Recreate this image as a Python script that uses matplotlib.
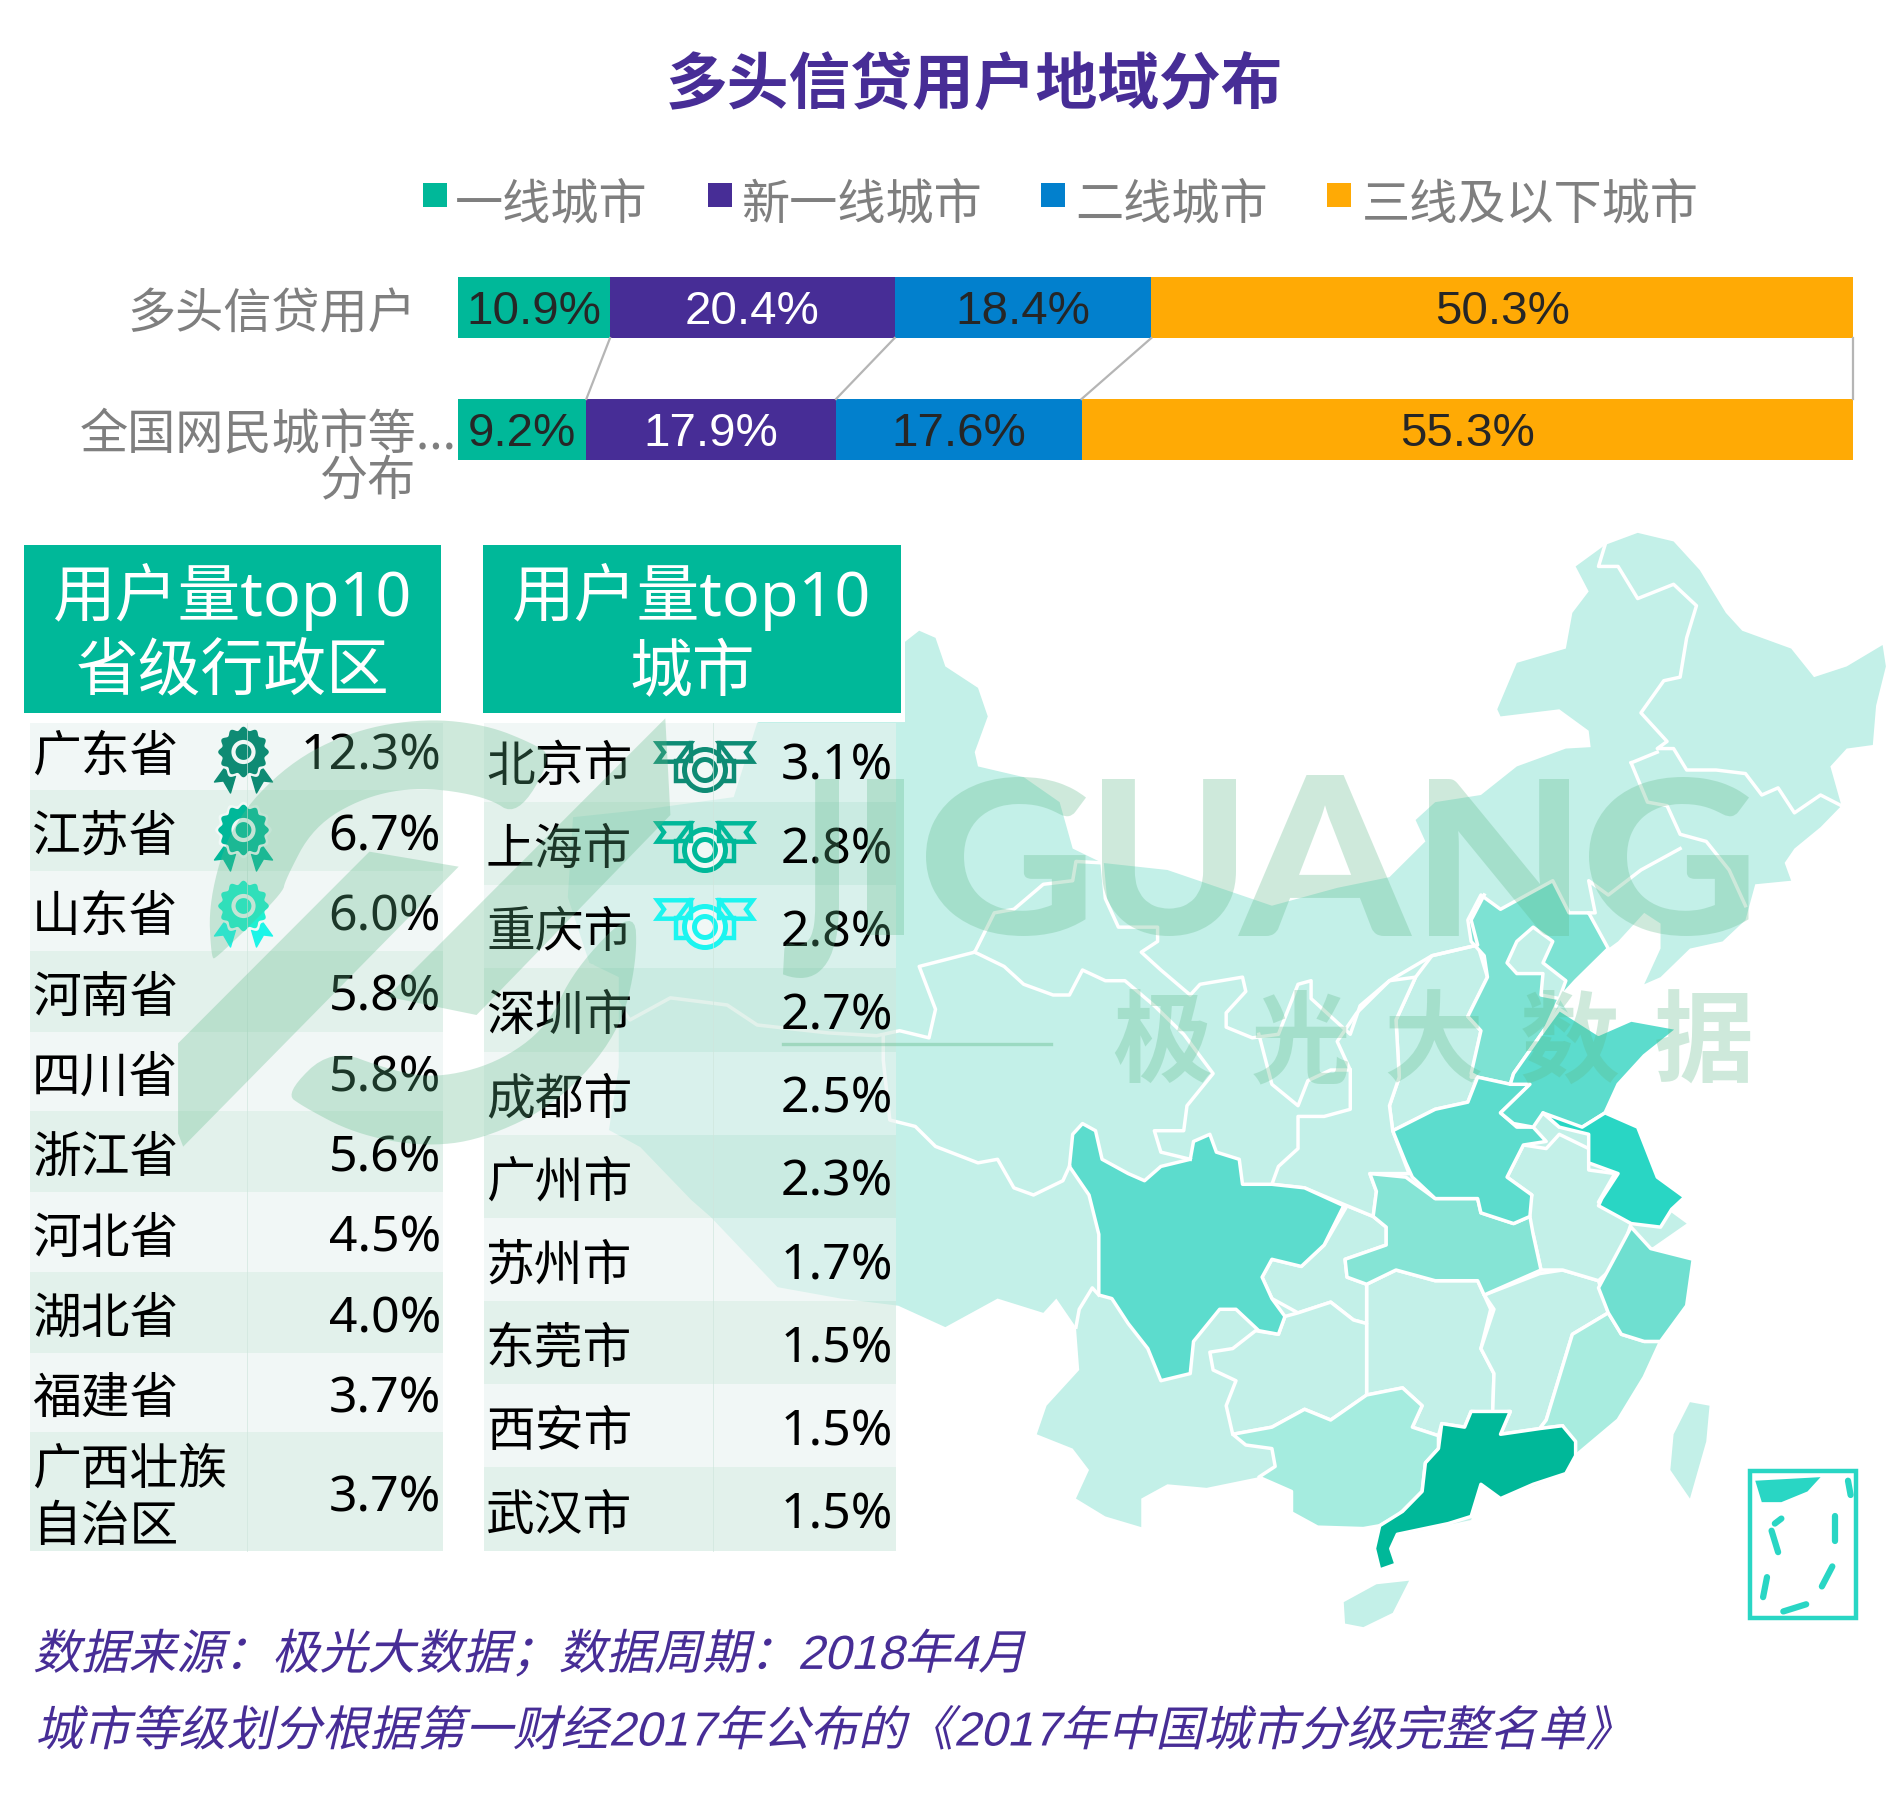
import numpy as np
import matplotlib
matplotlib.use("Agg")
import matplotlib.pyplot as plt
from matplotlib.patches import Polygon, Rectangle, Circle
from matplotlib.patheffects import AbstractPathEffect
from matplotlib.textpath import TextPath
from matplotlib.font_manager import FontProperties
from matplotlib.transforms import Affine2D

# --- data ---
title = "多头信贷用户地域分布"
tiers = ["一线城市", "新一线城市", "二线城市", "三线及以下城市"]
groups = ["多头信贷用户", "全国网民城市等..."]
share_credit = [10.9, 20.4, 18.4, 50.3]
share_all = [9.2, 17.9, 17.6, 55.3]

provinces = ["广东省", "江苏省", "山东省", "河南省", "四川省", "浙江省", "河北省", "湖北省", "福建省", "广西壮族\n自治区"]
province_pct = [12.3, 6.7, 6.0, 5.8, 5.8, 5.6, 4.5, 4.0, 3.7, 3.7]
cities = ["北京市", "上海市", "重庆市", "深圳市", "成都市", "广州市", "苏州市", "东莞市", "西安市", "武汉市"]
city_pct = [3.1, 2.8, 2.8, 2.7, 2.5, 2.3, 1.7, 1.5, 1.5, 1.5]

source_lines = ["数据来源\uff1a极光大数据\uff1b数据周期\uff1a2018年4月",
                "城市等级划分根据第一财经2017年公布的《2017年中国城市分级完整名单》"]

# map outlines
china = [(60,155),(85,165),(100,205),(150,235),(165,275),(145,325),(150,345),(220,360),(275,395),(295,460),(340,480),
         (440,490),(520,515),(600,540),(700,515),(780,500),(835,450),(820,420),(850,395),(920,385),(975,345),(1050,320),
         (1088,318),(1085,295),(1040,265),(950,275),(945,265),(975,200),(1050,180),(1060,130),(1085,100),(1065,65),
         (1110,35),(1160,18),(1215,30),(1255,70),(1295,130),(1320,155),(1395,180),(1430,220),(1480,205),(1535,175),
         (1540,205),(1525,260),(1520,315),(1480,320),(1455,345),(1472,400),(1440,430),(1400,460),(1385,480),(1395,505),
         (1340,510),(1325,560),(1290,590),(1240,600),(1195,640),(1170,650),(1195,600),(1195,565),(1170,550),(1130,590),
         (1115,600),(1065,645),(1040,670),(1060,700),(1100,720),(1150,700),(1222,712),(1170,750),(1130,790),(1110,830),
         (1160,850),(1190,920),(1230,945),(1205,965),(1235,985),(1180,1020),(1245,1035),(1235,1100),(1195,1150),
         (1170,1200),(1130,1260),(1065,1310),(1050,1335),(950,1370),(920,1350),(905,1400),(800,1420),(770,1410),
         (740,1412),(670,1410),(630,1390),(630,1360),(580,1340),(500,1355),(440,1350),(400,1370),(400,1410),(345,1395),
         (300,1370),(320,1330),(295,1300),(240,1280),(255,1240),(305,1190),(300,1130),(270,1090),(250,1110),(180,1090),
         (100,1130),(28,1100),(-60,1090),(-157,1074),(-259,976),(-289,952),(-367,878),(-415,854),(-400,766),(-400,640),
         (-445,620),(-478,528),(-470,416),(-367,406),(-224,388),(-188,284),(32,175)]
hainan = [(710,1515),(760,1490),(810,1485),(785,1530),(740,1550),(712,1545)]
taiwan = [(1240,1235),(1270,1240),(1265,1290),(1240,1370),(1210,1330),(1215,1280)]

guangdong = [(860,1265),(895,1270),(905,1248),(965,1248),(950,1280),(1010,1272),(1045,1268),(1065,1290),(1065,1310),
             (1050,1335),(1000,1350),(950,1370),(920,1350),(905,1395),(870,1405),(792,1420),(782,1440),(790,1462),
             (765,1470),(757,1440),(765,1408),(800,1388),(830,1360),(835,1320),(855,1300)]
guangxi = [(540,1280),(600,1270),(650,1245),(690,1260),(745,1225),(800,1215),(830,1240),(815,1270),(855,1282),(855,1300),
           (835,1320),(830,1360),(795,1392),(765,1408),(740,1412),(670,1410),(630,1390),(630,1360),(580,1340),(605,1325),
           (600,1300),(560,1295)]
hunan = [(745,1070),(790,1050),(850,1065),(915,1065),(935,1105),(920,1160),(940,1195),(938,1250),(905,1248),(895,1270),
         (860,1265),(855,1282),(815,1270),(830,1240),(800,1215),(745,1225),(745,1180),(745,1125)]
jiangxi = [(925,1085),(1010,1055),(1045,1050),(1100,1065),(1115,1110),(1060,1140),(1040,1200),(1020,1260),(1010,1272),
           (950,1280),(965,1248),(938,1250),(940,1195),(920,1160),(940,1105)]
fujian = [(1115,1110),(1135,1140),(1170,1150),(1195,1150),(1170,1200),(1130,1260),(1065,1310),(1045,1268),(1010,1272),
          (1020,1260),(1040,1200),(1060,1140)]
zhejiang = [(1100,1075),(1150,990),(1180,1020),(1245,1035),(1235,1100),(1195,1150),(1170,1150),(1135,1140),(1115,1110)]
jiangsu = [(1015,830),(1040,850),(1085,860),(1085,900),(1130,915),(1105,950),(1100,960),(1150,985),(1195,990),(1212,965),
           (1232,948),(1190,920),(1160,850),(1110,830),(1075,850)]
anhui = [(960,920),(985,875),(1020,880),(1040,860),(1085,880),(1085,910),(1125,915),(1100,955),(1150,985),(1130,1040),
         (1100,1065),(1045,1050),(1012,1050),(1000,1000),(985,975),(998,945)]
shandong = [(970,775),(1020,710),(1040,685),(1100,720),(1150,700),(1222,712),(1170,750),(1130,790),(1110,830),(1075,850),
            (1040,850),(1015,830),(1000,850),(970,845),(950,830),(995,790),(965,790)]
henan = [(785,855),(850,825),(900,815),(915,780),(965,790),(995,790),(950,830),(975,850),(1000,850),(1020,870),(985,875),
         (960,920),(998,945),(995,975),(970,985),(920,970),(915,950),(850,950),(815,920),(805,900)]
hebei = [(900,560),(920,525),(950,545),(1000,520),(1030,505),(1055,550),(1085,550),(1115,600),(1065,645),(1040,670),
         (1020,710),(970,775),(965,790),(915,780),(905,775),(920,715),(900,695),(930,640),(925,610),(905,590)]
beijing = [(960,620),(975,590),(1000,570),(1030,590),(1015,620),(1050,645),(1040,670),(1012,665),(1015,635),(975,635)]
hubei = [(750,915),(805,920),(850,950),(915,950),(920,970),(970,985),(995,975),(1000,1000),(1012,1050),(925,1085),(915,1065),
         (850,1065),(790,1050),(745,1070),(715,1060),(712,1035),(775,1015),(775,990),(755,975),(760,940)]
chongqing = [(715,960),(755,975),(775,990),(775,1015),(712,1035),(715,1060),(745,1070),(745,1125),(725,1120),(690,1095),
             (640,1110),(600,1090),(585,1060),(600,1035),(645,1045),(680,1015)]
sichuan = [(310,845),(330,855),(340,895),(380,915),(405,925),(430,905),(475,895),(480,870),(505,860),(515,885),(550,895),
           (555,930),(600,930),(650,935),(710,960),(680,1015),(645,1045),(600,1035),(585,1060),(600,1090),(620,1115),
           (610,1140),(580,1135),(545,1105),(520,1105),(480,1150),(475,1195),(430,1205),(410,1160),(380,1125),(355,1090),
           (335,1085),(335,1000),(320,945),(290,905),(295,860)]
guizhou = [(505,1165),(540,1160),(575,1135),(610,1140),(620,1115),(640,1110),(690,1095),(725,1120),(745,1125),(745,1225),
           (690,1260),(650,1245),(600,1270),(540,1280),(530,1240),(545,1205),(510,1190)]
shanxi = [(845,610),(915,595),(930,640),(900,695),(920,715),(905,780),(915,780),(900,815),(850,825),(785,855),(780,820),
          (795,780),(790,700),(820,640)]
shaanxi = [(780,645),(820,640),(790,700),(795,780),(780,820),(785,855),(810,915),(750,915),(760,940),(755,975),(715,960),
           (650,935),(600,930),(610,905),(640,880),(640,835),(680,835),(720,825),(720,770),(700,730),(730,690)]

border_lines = [
    [(145,605),(175,550),(205,545),(250,510),(295,505),(300,478),(340,480),(345,530),(365,570),(425,570),(425,590),(400,605),
     (430,630),(475,665),(490,650),(555,640),(560,660),(530,690),(530,710),(570,725),(610,720),(640,650),(660,645),(660,670),
     (720,720),(735,680),(780,645),(845,610),(915,595),(905,560),(925,525)],
    [(145,605),(60,625),(85,685),(75,725),(30,715),(-5,722),(-80,718),(-188,707),(-234,679),(-321,669),(-383,700),(-440,625)],
    [(5,722),(5,756),(15,840),(54,849),(85,877),(150,900),(180,895),(205,935),(235,945),(280,925),(290,905)],
    [(145,605),(190,625),(220,650),(265,665),(290,665),(310,630),(345,645),(375,645),(420,680),(465,720),(510,775),(470,820),
     (465,855),(420,855),(430,885),(475,895)],
    [(580,720),(600,790),(640,820),(655,785),(690,770),(720,770)],
    [(335,1085),(325,1075),(305,1105),(300,1130)],
    [(1110,35),(1100,65),(1130,65),(1160,110),(1215,90),(1250,120),(1235,165),(1225,220),(1200,225),(1165,270),(1195,300),
     (1205,310),(1190,320),(1215,320),(1235,350),(1280,350),(1325,355),(1350,385),(1375,375),(1400,410),(1440,385),(1472,400)],
    [(1150,340),(1190,325)],
    [(1150,340),(1175,395),(1205,400),(1225,440),(1265,450),(1300,490),(1325,540)],
    [(1225,460),(1165,490),(1115,525),(1085,505),(1095,550),(1085,550)],
]

nanhai_land = [(1340,1345),(1440,1340),(1420,1360),(1380,1375),(1350,1375)]
nanhai_dashes = [[(1365,1415),(1375,1445)], [(1462,1395),(1462,1430)], [(1358,1480),(1352,1508)], [(1458,1465),(1442,1493)],
                 [(1383,1528),(1418,1518)], [(1370,1405),(1380,1398)], [(1482,1345),(1486,1365)]]

# logo in the watermark
swoosh_top = [(120,775),(115,600),(160,370),(270,190),(400,90),(540,55),(660,75),(750,130),(790,170),(720,350),(660,290),
              (530,260),(420,290),(320,380),(265,540),(260,580),(130,775)]
swoosh_bar1 = [(55,1030),(430,455),(605,500),(65,1340),(55,1300)]
swoosh_bar2 = [(465,890),(1010,55),(1020,345),(640,945)]
swoosh_low = [(265,1180),(355,1045),(470,1110),(560,1135),(680,1090),(780,980),(830,810),(950,620),(955,780),(920,1000),
              (800,1210),(650,1320),(530,1340),(400,1300),(300,1220)]

# --- styles ---
GREEN, PURPLE, BLUE, ORANGE = "#00b899", "#472d96", "#0280cd", "#ffaa05"
tier_colors = [GREEN, PURPLE, BLUE, ORANGE]
label_colors = ["#262626", "white", "#262626", "#262626"]
BASE = "#c3f0e8"
CJK = ["Noto Sans CJK SC", "DejaVu Sans"]
LATIN_CJK = ["Noto Sans", "Noto Sans CJK SC"]
ARIAL_CJK = ["Liberation Sans", "Noto Sans CJK SC"]


class Warp(AbstractPathEffect):
    # slanted / stretched text, there is no italic in the CJK fonts
    def __init__(self, slant=0, sx=1, sy=1):
        super().__init__()
        self.slant, self.sx, self.sy = slant, sx, sy

    def draw_path(self, renderer, gc, tpath, affine, rgbFace=None):
        m = affine.get_matrix()
        x0, y0 = m[0, 2], m[1, 2]
        warp = Affine2D().translate(-x0, -y0).scale(self.sx, self.sy).skew_deg(self.slant, 0).translate(x0, y0)
        renderer.draw_path(gc, tpath, affine + warp, rgbFace)


def rounded(points, rounds=3):
    # corner cutting, the logo arcs are curves in the picture
    pts = np.array(points, dtype=float)
    for _ in range(rounds):
        nxt = np.roll(pts, -1, axis=0)
        pts = np.c_[0.75 * pts + 0.25 * nxt, 0.25 * pts + 0.75 * nxt].reshape(-1, 2)
    return pts


W, H = 1904, 1820
fig = plt.figure(figsize=(W / 100, H / 100), dpi=100, facecolor="white")

# map axes: units of the traced outlines
map_ax = fig.add_axes([0, 0, 1, 1], zorder=1)
map_ax.set_xlim(-880 * 1.531, (W - 880) * 1.531)
map_ax.set_ylim((H - 520) * 1.4, -520 * 1.4)
map_ax.axis("off")

for shape in [china, hainan, taiwan]:
    map_ax.add_patch(Polygon(shape, fc=BASE, ec="none"))

filled = [(hunan, BASE), (jiangxi, BASE), (anhui, BASE), (chongqing, BASE), (guizhou, BASE), (shanxi, BASE), (shaanxi, BASE),
          (fujian, "#a8ecdf"), (guangxi, "#a5ecdf"), (zhejiang, "#6fdfd0"), (hubei, "#85e4d5"), (hebei, "#7de2d3"),
          (beijing, BASE), (henan, "#5cdccd"), (shandong, "#5cdccd"), (sichuan, "#5cdccd"), (jiangsu, "#29d6c4"),
          (guangdong, GREEN)]
for shape, color in filled:
    map_ax.add_patch(Polygon(shape, fc=color, ec="white", lw=2.5, joinstyle="round"))
for line in border_lines:
    xs, ys = zip(*line)
    map_ax.plot(xs, ys, color="white", lw=2.5, solid_joinstyle="round")

map_ax.add_patch(Rectangle((1332, 1332), 163, 205, fc="white", ec="#29d6c4", lw=3.2))
map_ax.add_patch(Polygon(nanhai_land, fc="#29d6c4", ec="none"))
for line in nanhai_dashes:
    xs, ys = zip(*line)
    map_ax.plot(xs, ys, color="#29d6c4", lw=4.5, solid_capstyle="round")

# overlay in image pixels
ov = fig.add_axes([0, 0, 1, 1], zorder=2)
ov.set_xlim(0, W)
ov.set_ylim(H, 0)
ov.axis("off")
ov.patch.set_alpha(0)

ov.text(974, 86, title, color=PURPLE, fontsize=44.5, fontweight="bold", family=CJK, ha="center", va="center")

legend_x = [423, 708, 1041, 1327]
legend_text_x = [455, 741, 1075, 1362]
for tier, color, lx, tx in zip(tiers, tier_colors, legend_x, legend_text_x):
    ov.add_patch(Rectangle((lx, 183), 23.5, 24, fc=color, ec="none"))
    ov.text(tx, 206, tier, color="#7f7f7f", fontsize=34.7, family=CJK, ha="left", va="center")

ov.text(416, 315, groups[0], color="#7f7f7f", fontsize=34.7, family=CJK, ha="right", va="center")
ov.text(80, 436, groups[1], color="#7f7f7f", fontsize=34.7, family=CJK, ha="left", va="center")
ov.text(416, 482, "分布", color="#7f7f7f", fontsize=34.7, family=CJK, ha="right", va="center")


def icon_rosette(cx, cy, color, ribbon):
    t = np.linspace(0, 2 * np.pi, 240)
    r = 23.5 + 1.8 * np.cos(12 * t)
    for sign in (-1, 1):
        ov.add_patch(Polygon([(cx + sign * 19, cy + 16), (cx + sign * 8, cy + 24), (cx + sign * 13, cy + 41),
                              (cx + sign * 20, cy + 29), (cx + sign * 29, cy + 30)],
                             fc=ribbon, ec=ribbon, lw=1, joinstyle="round"))
    ov.add_patch(Polygon(np.c_[cx + (r + 3) * np.cos(t), cy + (r + 3) * np.sin(t)], fc="#f1f8f6", ec="none"))
    ov.add_patch(Polygon(np.c_[cx + r * np.cos(t), cy + r * np.sin(t)], fc=color, ec="none"))
    ov.add_patch(Circle((cx, cy), 10, fc=color, ec="#f1f8f6", lw=3))


def icon_bow(cx, cy, color):
    for sign in (-1, 1):
        ov.add_patch(Polygon([(cx + sign * 47.7, cy - 26.7), (cx + sign * 14.3, cy - 26.7), (cx + sign * 28, cy - 8.3),
                              (cx + sign * 47.7, cy - 8.3), (cx + sign * 41, cy - 17.7)],
                             fc="none", ec=color, lw=3.2, joinstyle="miter"))
        ov.add_patch(Rectangle((cx + sign * 21.5 - 7.5, cy - 9), 15, 20, fc="none", ec=color, lw=3.2))
        ov.plot([cx + sign * 14.3] * 2, [cy - 26.7, cy - 9], color=color, lw=3.2)
    ov.add_patch(Circle((cx, cy), 20.5, fc="#f1f8f6", ec=color, lw=3.6))
    ov.add_patch(Circle((cx, cy), 10.5, fc="none", ec=color, lw=3.6))


# tables
left_edges = [723, 790, 871, 951, 1032, 1111, 1192, 1272, 1353, 1432, 1551]
right_edges = [723, 802, 885, 968, 1052, 1135, 1218, 1301, 1384, 1467, 1551]
row_colors = ["#e8f3f0", "#d0e9df"]

ov.add_patch(Rectangle((476, 538), 429, 184, fc="white", ec="none"))
for x0, x1, x_split, edges in [(30, 443, 247, left_edges), (484, 896, 713, right_edges)]:
    for i in range(10):
        ov.add_patch(Rectangle((x0, edges[i]), x1 - x0, edges[i + 1] - edges[i], fc=row_colors[i % 2], ec="none", alpha=0.6))
    ov.plot([x_split, x_split], [edges[0], edges[-1]], color="#cfe6dd", lw=0.6, alpha=0.8)

header_specs = [(24, 441, "省级行政区"), (483, 901, "城市")]
for x0, x1, second in header_specs:
    ov.add_patch(Rectangle((x0, 545), x1 - x0, 167.5, fc=GREEN, ec="none"))
    xc = (x0 + x1) / 2
    ov.text(xc, 597, "用户量top10", color="white", fontsize=45.2, family=LATIN_CJK, ha="center", va="center")
    ov.text(xc, 675, second, color="white", fontsize=45.2, family=LATIN_CJK, ha="center", va="center")

for i, (name, pct) in enumerate(zip(provinces, province_pct)):
    y = 757 + i * 80.3 if i < 9 else 1498
    if i < 9:
        ov.text(32, y, name, color="black", fontsize=35.1, family=CJK, ha="left", va="center")
    else:
        one, two = name.split("\n")
        ov.text(32, 1470, one, color="black", fontsize=35.1, family=CJK, ha="left", va="center")
        ov.text(32, 1527, two, color="black", fontsize=35.1, family=CJK, ha="left", va="center")
    ov.text(441, y, f"{pct:.1f}%", color="black", fontsize=36, family=LATIN_CJK, ha="right", va="center")

for i, (name, pct) in enumerate(zip(cities, city_pct)):
    y = 767 + i * 83.2
    ov.text(486, y, name, color="black", fontsize=35.1, family=CJK, ha="left", va="center")
    ov.text(893, y, f"{pct:.1f}%", color="black", fontsize=36, family=LATIN_CJK, ha="right", va="center")

rosettes = [(752, "#0e8b74", "#0e8b74"), (830, "#00b899", "#00b899"), (906, "#1df0d0", "#1cf5e8")]
for cy, color, ribbon in rosettes:
    icon_rosette(243.5, cy, color, ribbon)
for cy, color in [(770, "#0e8b74"), (850, "#00b899"), (927, "#1cf5f0")]:
    icon_bow(705, cy, color)

for y, line, x in zip([1655, 1733], source_lines, [33, 35]):
    ov.text(x, y, line, color=PURPLE, fontsize=34.4, family=ARIAL_CJK, ha="left", va="center",
            path_effects=[Warp(slant=13)])

# stacked bars
bar_ax = fig.add_axes([458 / W, 1 - 490.5 / H, 1395 / W, 244 / H], zorder=3)
bar_ax.set_xlim(0, 100)
bar_ax.set_ylim(1.5, -0.5)
bar_ax.axis("off")
bar_ax.patch.set_alpha(0)
left = np.zeros(2)
for j, color in enumerate(tier_colors):
    vals = np.array([share_credit[j], share_all[j]])
    bar_ax.barh([0, 1], vals, left=left, height=0.5, color=color)
    for k in range(2):
        bar_ax.text(left[k] + vals[k] / 2, k + 0.035, f"{vals[k]:.1f}%", color=label_colors[j], fontsize=34.2,
                    family="Liberation Sans", ha="center", va="center")
    left = left + vals
    top_end, low_end = np.cumsum(share_credit)[j], np.cumsum(share_all)[j]
    bar_ax.plot([top_end, low_end], [0.25, 0.75], color="#b5b5b5", lw=1.6, clip_on=False)

# watermark on top of everything
wm = fig.add_axes([0, 0, 1, 1], zorder=4)
wm.set_xlim(0, W)
wm.set_ylim(H, 0)
wm.axis("off")
wm.patch.set_alpha(0)
WM_COLOR, WM_ALPHA = "#5fb98a", 0.3

for shape, rounds in [(swoosh_top, 3), (swoosh_bar1, 0), (swoosh_bar2, 0), (swoosh_low, 3)]:
    pts = np.array([(150 + x / 1.96, 700 + y / 3) for x, y in shape])
    wm.add_patch(Polygon(rounded(pts, rounds), fc=WM_COLOR, ec="none", alpha=WM_ALPHA))

# letter, left, right, top, bottom in pixels
letter_boxes = [("J", 783, 839, 779, 978), ("I", 867, 904, 779, 935), ("G", 926, 1086, 777, 936), ("U", 1102, 1236, 779, 936),
                ("A", 1238, 1412, 775, 936), ("N", 1429, 1569, 779, 936), ("G", 1589, 1749, 777, 936)]
fp = FontProperties(family="Lato", weight="black")
for ch, x0, x1, y0, y1 in letter_boxes:
    ext = TextPath((0, 0), ch, size=157, prop=fp).get_extents()
    k = 100 / 72
    sx = (x1 - x0) / (ext.width * k)
    sy = (y1 - y0) / (ext.height * k)
    wm.text(x0 - ext.x0 * k * sx, y1 + ext.y0 * k * sy, ch, fontproperties=fp, fontsize=157, color=WM_COLOR, alpha=WM_ALPHA,
            ha="left", va="baseline", path_effects=[Warp(sx=sx, sy=sy)])

for ch, xc in zip("极光大数据", [1162, 1301, 1433, 1570, 1704]):
    wm.text(xc, 1045, ch, color=WM_COLOR, alpha=WM_ALPHA, fontsize=72, fontweight="bold", family=CJK, ha="center", va="center")
wm.plot([783, 1051], [1044, 1044], color=WM_COLOR, alpha=WM_ALPHA + 0.1, lw=2.4)

fig.savefig("out.png", dpi=100, facecolor="white")
